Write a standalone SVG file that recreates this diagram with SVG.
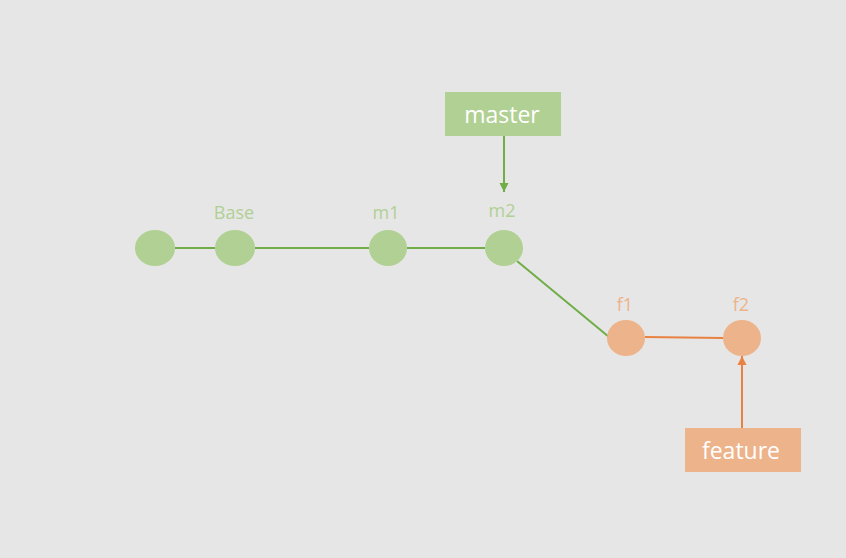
<svg xmlns="http://www.w3.org/2000/svg" width="846" height="558" viewBox="0 0 846 558">
<style>
.g{fill:#B1D093}
.o{fill:#EDB38A}
.lg{fill:#B1D093;font-family:"Open Sans","Liberation Sans",sans-serif;font-size:18px;text-anchor:middle}
.lo{fill:#EDB38A;font-family:"Open Sans","Liberation Sans",sans-serif;font-size:18px;text-anchor:middle}
.bt{fill:#FFFFFF;font-family:"Open Sans","Liberation Sans",sans-serif;font-size:23px;text-anchor:middle}
.cg{stroke:#70AD47;stroke-width:2;fill:none}
.co{stroke:#E98143;stroke-width:2;fill:none}
</style>
<defs>
<marker id="ag" markerWidth="10" markerHeight="12" refX="9" refY="5" orient="auto" markerUnits="userSpaceOnUse"><path d="M0,0.5 L9,5 L0,9.5 Z" fill="#70AD47"/></marker>
<marker id="ao" markerWidth="10" markerHeight="12" refX="9" refY="5" orient="auto" markerUnits="userSpaceOnUse"><path d="M0,0.5 L9,5 L0,9.5 Z" fill="#E98143"/></marker>
</defs>
<rect width="846" height="558" fill="#E6E6E6"/>
<g id="connectors">
<line class="cg" x1="175" y1="248" x2="215" y2="248"/>
<line class="cg" x1="255" y1="248" x2="369" y2="248"/>
<line class="cg" x1="407" y1="248" x2="485" y2="248"/>
<line class="cg" x1="517" y1="261" x2="609" y2="337"/>
<line class="co" x1="645" y1="337" x2="723" y2="338"/>
<line class="cg" x1="504" y1="136" x2="504" y2="192" marker-end="url(#ag)"/>
<line class="co" x1="742" y1="428" x2="742" y2="356" marker-end="url(#ao)"/>
</g>
<g id="n0"><ellipse class="g" cx="155" cy="248" rx="20" ry="18"/></g>
<g id="base"><ellipse class="g" cx="235" cy="248" rx="20" ry="18"/><text class="lg" x="234" y="219">Base</text></g>
<g id="m1"><ellipse class="g" cx="388" cy="248" rx="19" ry="18"/><text class="lg" x="386" y="219">m1</text></g>
<g id="m2"><ellipse class="g" cx="504" cy="248" rx="19" ry="18"/><text class="lg" x="502" y="217">m2</text></g>
<g id="f1"><ellipse class="o" cx="626" cy="338" rx="19" ry="18"/><text class="lo" x="625" y="311">f1</text></g>
<g id="f2"><ellipse class="o" cx="742" cy="338" rx="19" ry="18"/><text class="lo" x="741" y="311">f2</text></g>
<g id="master"><rect class="g" x="445" y="92" width="116" height="44"/><text class="bt" x="502" y="123">master</text></g>
<g id="feature"><rect class="o" x="685" y="428" width="116" height="44"/><text class="bt" x="741" y="459">feature</text></g>
</svg>
